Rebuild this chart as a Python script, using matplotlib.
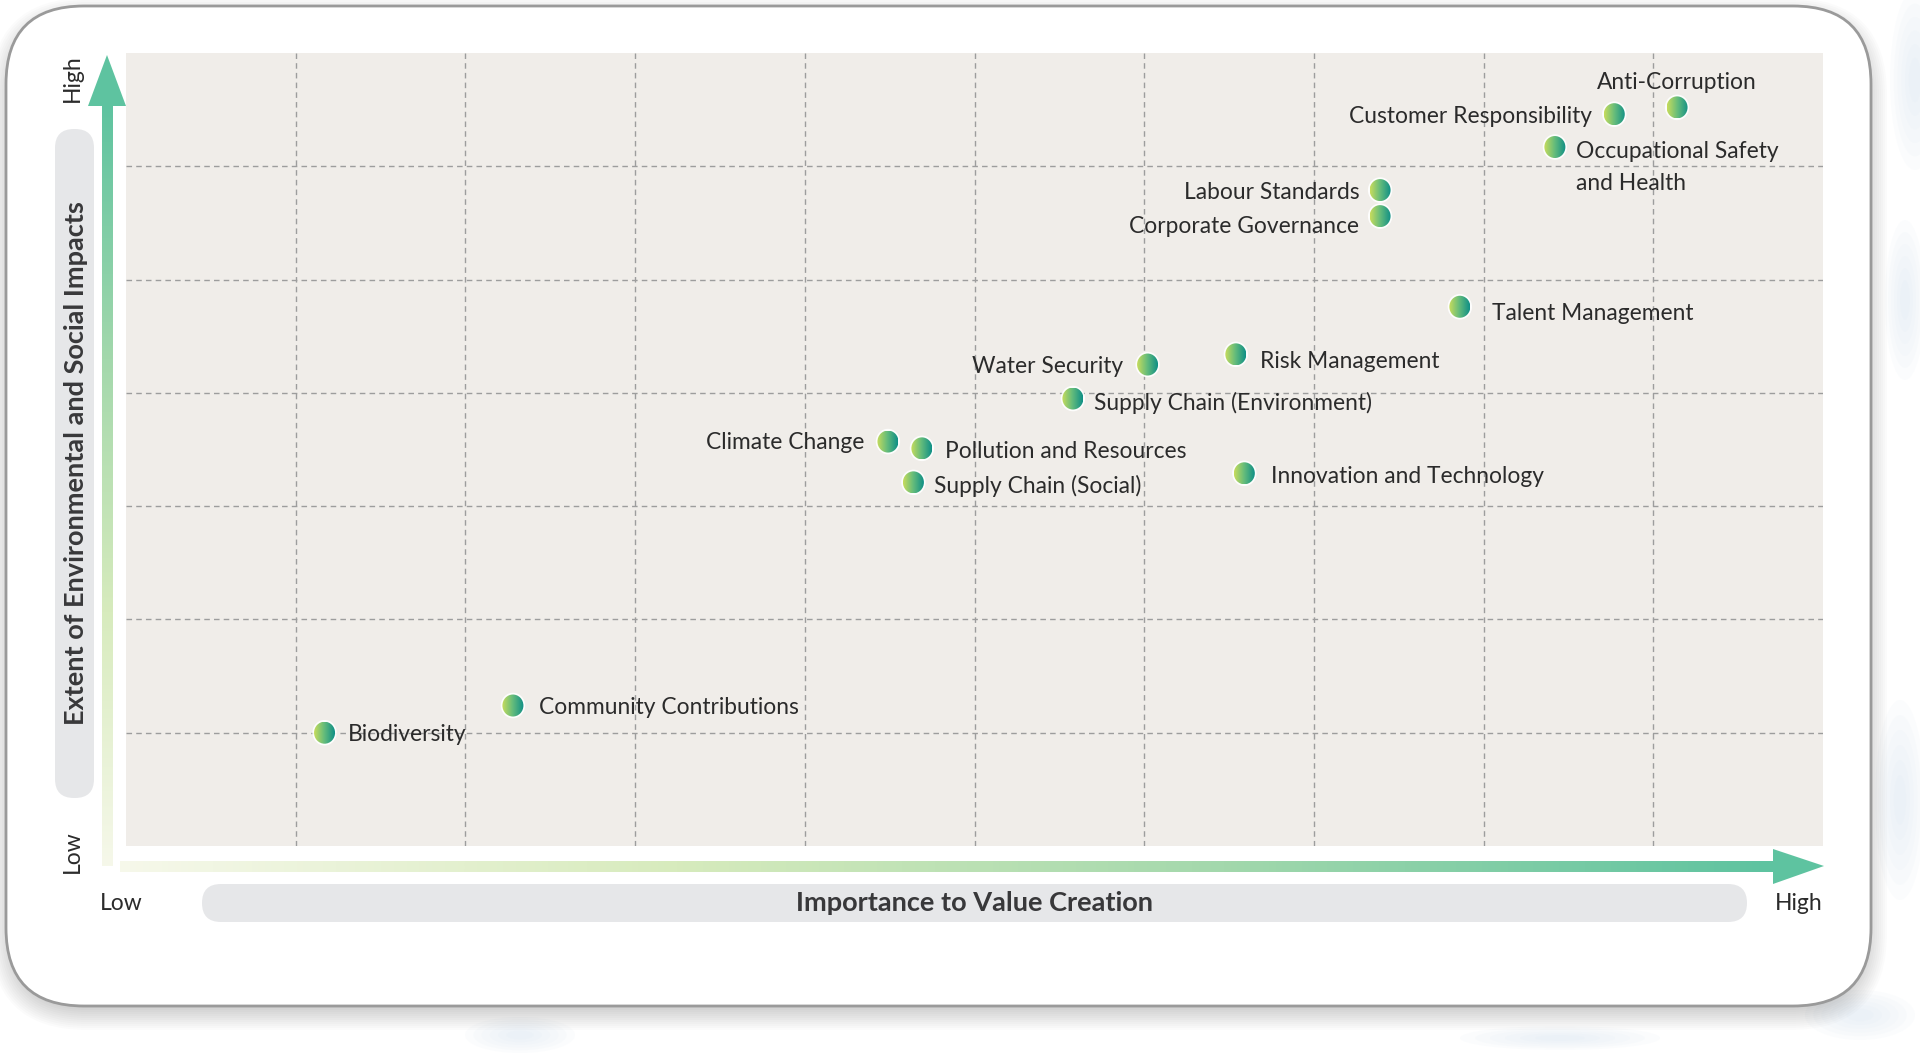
import numpy as np
import matplotlib
matplotlib.use("Agg")
import matplotlib.pyplot as plt
from matplotlib.patches import FancyBboxPatch, Ellipse, Polygon
from matplotlib.colors import LinearSegmentedColormap

# materiality topics: x = importance to value creation, y = environmental/social impact
topics = [
    "Anti-Corruption", "Customer Responsibility", "Occupational Safety\nand Health",
    "Labour Standards", "Corporate Governance", "Talent Management",
    "Water Security", "Risk Management", "Supply Chain (Environment)",
    "Climate Change", "Pollution and Resources", "Supply Chain (Social)",
    "Innovation and Technology", "Community Contributions", "Biodiversity",
]
value_creation = [9.14, 8.77, 8.42, 7.39, 7.39, 7.86, 6.02, 6.54, 5.58,
                  4.49, 4.69, 4.64, 6.59, 2.28, 1.17]
impact = [6.52, 6.46, 6.17, 5.79, 5.56, 4.76, 4.25, 4.34, 3.95,
          3.57, 3.51, 3.21, 3.29, 1.24, 1.00]

# label placement: offset in points and horizontal alignment
label_dx = [0, -16, 15, -15, -15, 23, -17.6, 17.6, 15, -16.8, 16.8, 15, 19.4, 18.5, 16.8]
label_dy = [19.4, 0, 4.5, 0, -6, -3.5, 0, -3.5, -2, 1, -1, -1, -1, 0, 0]
label_ha = ["center", "right", "left", "right", "right", "left", "right", "left", "left",
            "right", "left", "left", "left", "left", "left"]

W, H = 1920, 1054
TEAL = "#5ec3a0"
FONT = "Lato"

fig = plt.figure(figsize=(19.2, 10.54), dpi=100)
fig.patch.set_facecolor("white")

# background layer in pixel coordinates
bg = fig.add_axes([0, 0, 1, 1])
bg.set_xlim(0, W)
bg.set_ylim(H, 0)
bg.axis("off")

# soft watercolour splashes behind the card
for (cx, cy, ew, eh) in [(1915, 80, 50, 180), (1905, 300, 40, 160), (1900, 800, 50, 200),
                         (1860, 1015, 110, 50), (520, 1035, 110, 36), (1560, 1038, 200, 24)]:
    for k in range(6):
        f = 1 - k * 0.15
        bg.add_patch(Ellipse((cx, cy), ew * f, eh * f, facecolor="#d6e5f0",
                             edgecolor="none", alpha=0.09))

# card shadow
for i in range(12):
    bg.add_patch(FancyBboxPatch((6 + 6, 6 + 14), 1865 - 12, 1000 - 12,
                                boxstyle="round,pad=%d,rounding_size=%d" % (i * 2, 75 + i * 2),
                                facecolor="#000000", edgecolor="none", alpha=0.016))
# card
bg.add_patch(FancyBboxPatch((6, 6), 1865, 1000, boxstyle="round,pad=0,rounding_size=78",
                            facecolor="white", edgecolor="#9a9a9a", linewidth=2))

# label pills
bg.add_patch(FancyBboxPatch((55, 129), 39, 669, boxstyle="round,pad=0,rounding_size=19",
                            facecolor="#e6e7e9", edgecolor="none"))
bg.add_patch(FancyBboxPatch((202, 884), 1545, 38, boxstyle="round,pad=0,rounding_size=19",
                            facecolor="#e6e7e9", edgecolor="none"))

# gradient arrows
arrow_cmap = LinearSegmentedColormap.from_list("arr", ["#f6f8ea", "#d7ebbd", "#a3d8ac", TEAL])
grad = np.linspace(0, 1, 256)
bg.imshow(grad.reshape(-1, 1), cmap=arrow_cmap, extent=(102, 113, 866, 104),
          origin="lower", aspect="auto", interpolation="bilinear", zorder=3)
bg.add_patch(Polygon([(88, 106), (126, 106), (107, 55)], closed=True, facecolor=TEAL,
                     edgecolor="none", zorder=3))
bg.imshow(grad.reshape(1, -1), cmap=arrow_cmap, extent=(120, 1775, 872, 861),
          origin="lower", aspect="auto", interpolation="bilinear", zorder=3)
bg.add_patch(Polygon([(1773, 849), (1773, 884), (1824, 866)], closed=True, facecolor=TEAL,
                     edgecolor="none", zorder=3))
bg.set_xlim(0, W)
bg.set_ylim(H, 0)

# axis texts
bg.text(975, 903, "Importance to Value Creation", ha="center", va="center", fontsize=19.5,
        fontweight="bold", color="#38383a", family=FONT, zorder=4)
bg.text(76, 463, "Extent of Environmental and Social Impacts", ha="center", va="center",
        rotation=90, fontsize=19.5, fontweight="bold", color="#38383a", family=FONT, zorder=4)
bg.text(100, 903, "Low", ha="left", va="center", fontsize=16.5, color="#2b2b2b", family=FONT, zorder=4)
bg.text(1823, 903, "High", ha="right", va="center", fontsize=16.5, color="#2b2b2b", family=FONT, zorder=4)
bg.text(72, 852, "Low", ha="center", va="center", rotation=90, fontsize=16.5, color="#2b2b2b",
        family=FONT, zorder=4)
bg.text(72, 78, "High", ha="center", va="center", rotation=90, fontsize=16.5, color="#2b2b2b",
        family=FONT, zorder=4)

# main plot
ax = fig.add_axes([126 / W, 1 - 846 / H, (1823 - 126) / W, (846 - 53) / H])
ax.set_facecolor("#f0ede9")
ax.set_xlim(0, 10)
ax.set_ylim(0, 7)
ax.set_xticks(range(1, 10))
ax.set_yticks(range(1, 7))
ax.tick_params(length=0, labelbottom=False, labelleft=False)
for s in ax.spines.values():
    s.set_visible(False)
ax.grid(True, color="#9d9d9d", linestyle=(0, (4, 3)), linewidth=1)
ax.set_axisbelow(True)

# marker size in data units (about 21 px across)
px_x = (1823 - 126) / 10
px_y = (846 - 53) / 7
mw, mh = 21 / px_x, 22 / px_y
dot_cmap = LinearSegmentedColormap.from_list("dot", ["#c8dc5c", "#62bb7c", "#0f8f86"])

for i, name in enumerate(topics):
    x, y = value_creation[i], impact[i]
    ax.add_patch(Ellipse((x, y), mw * 1.16, mh * 1.16, facecolor="white", edgecolor="none",
                         alpha=0.9, zorder=3))
    clip = Ellipse((x, y), mw, mh, facecolor="none", edgecolor="none", zorder=4)
    ax.add_patch(clip)
    im = ax.imshow(grad.reshape(1, -1), cmap=dot_cmap,
                   extent=(x - mw / 2, x + mw / 2, y - mh / 2, y + mh / 2),
                   origin="lower", aspect="auto", interpolation="bilinear", zorder=4)
    im.set_clip_path(clip)
    va = "top" if "\n" in name else "center_baseline"
    ax.annotate(name, (x, y), xytext=(label_dx[i], label_dy[i]), textcoords="offset points",
                ha=label_ha[i], va=va, fontsize=16.4, color="#2b2b2b", family=FONT,
                linespacing=1.66, zorder=5)

ax.set_xlim(0, 10)
ax.set_ylim(0, 7)

fig.savefig("out.png", dpi=100, facecolor="white")
